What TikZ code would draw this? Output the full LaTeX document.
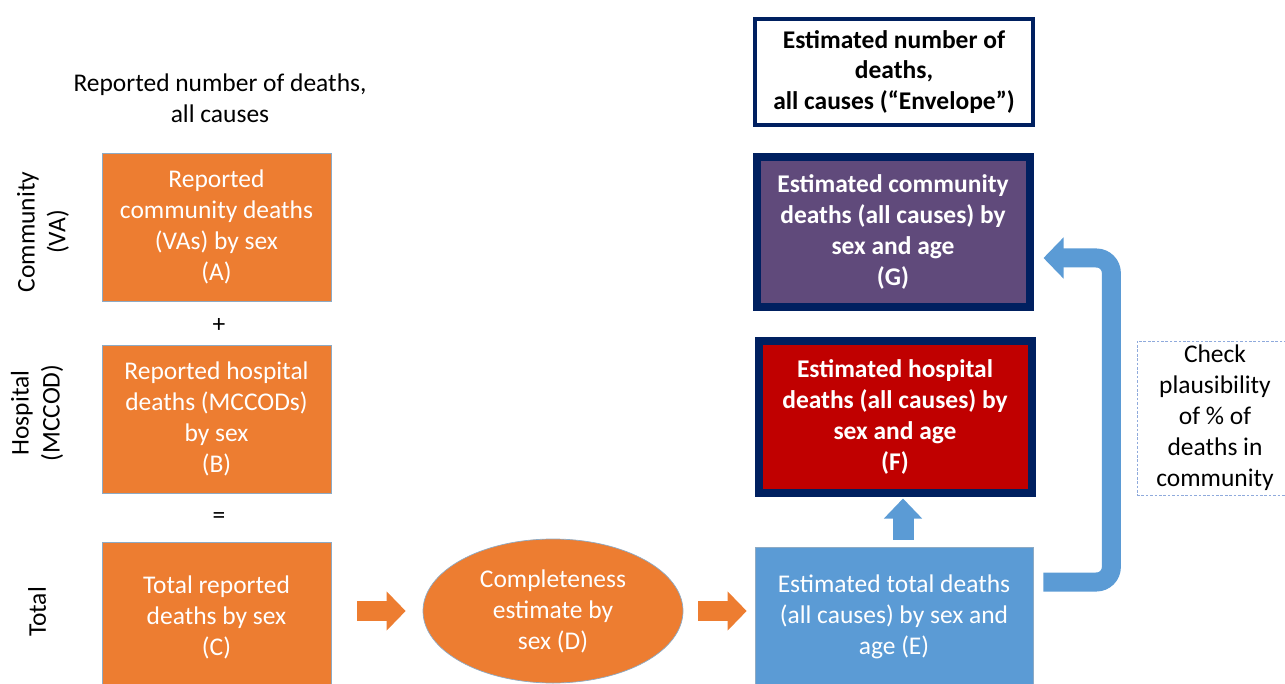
\documentclass[tikz,border=0pt]{standalone}
\usepackage{fontspec}
\setmainfont{Carlito}
\usetikzlibrary{shapes.geometric,arrows.meta}
\definecolor{repOrange}{HTML}{ED7D31}
\definecolor{estBlue}{HTML}{5B9BD5}
\definecolor{edgeBlue}{HTML}{41719C}
\definecolor{navy}{HTML}{002060}
\definecolor{hospRed}{HTML}{C00000}
\definecolor{commPurple}{HTML}{604A7B}
\definecolor{dashBlue}{HTML}{8FAADC}
\begin{document}
\begin{tikzpicture}[x=0.2mm,y=-0.2mm,
  txt/.style={font=\fontsize{14.5}{17.6}\selectfont,align=center,inner sep=0pt},
  repbox/.style={txt,draw=edgeBlue!60,fill=repOrange,text=white,minimum width=45.8mm,minimum height=29.6mm},
  estbox/.style={txt,draw=navy,line width=1.6mm,text=white,font=\fontsize{14.5}{17.6}\selectfont\bfseries,minimum width=54.6mm,minimum height=30mm},
  orarrow/.style={repOrange,line width=4mm,-{Triangle[length=3.8mm,width=7.6mm]}},
  bluearrow/.style={estBlue,line width=4.2mm,-{Triangle[length=4mm,width=7.4mm]}}]
\useasboundingbox (0,0) rectangle (1285,684);
\node[txt] (title) at (220,98) {Reported number of deaths,\\all causes};
\node[txt,rotate=90] (comm) at (43,232) {Community\\(VA)};
\node[txt,rotate=90] (hosp) at (37,413) {Hospital\\(MCCOD)};
\node[txt,rotate=90] (tot) at (37,612) {Total};
\node[repbox] (A) at (216.5,227) {Reported\\community deaths\\(VAs) by sex\\(A)};
\node[txt] (plus) at (219,325) {+};
\node[repbox] (B) at (216.5,419) {Reported hospital\\deaths (MCCODs)\\by sex\\(B)};
\node[txt] (eq) at (219,518) {=};
\node[repbox,minimum height=30mm] (C) at (216.5,617) {Total reported\\deaths by sex\\(C)};
\node[txt,ellipse,draw=edgeBlue!60,fill=repOrange,text=white,minimum width=52mm,minimum height=28.8mm] (D) at (553,611) {Completeness\\estimate by\\sex (D)};
\node[txt,draw=edgeBlue!60,fill=estBlue,text=white,minimum width=55.6mm,minimum height=28mm] (E) at (894,617) {Estimated total deaths\\(all causes) by sex and\\age (E)};
\node[estbox,fill=hospRed,minimum height=30.2mm] (F) at (895,417) {Estimated hospital\\deaths (all causes) by\\sex and age\\(F)};
\node[estbox,fill=commPurple] (G) at (893,232) {Estimated community\\deaths (all causes) by\\sex and age\\(G)};
\node[txt,draw=navy,line width=0.8mm,font=\fontsize{14.5}{17.6}\selectfont\bfseries,minimum width=55.6mm,minimum height=21.2mm] (env) at (894,72) {Estimated number of\\deaths,\\all causes (“Envelope”)};
\node[txt,draw=dashBlue,dash pattern=on 1.5pt off 1pt,minimum width=31.2mm,minimum height=30.8mm] (chk) at (1215,418) {Check\\plausibility\\of \% of\\deaths in\\community};
\draw[orarrow,shorten <=5.2mm,shorten >=3.4mm] (C.east |- D.west) -- (D.west);
\draw[orarrow,shorten <=3mm,shorten >=1.6mm] (D.east) -- (E.west |- D.east);
\draw[bluearrow,shorten <=1.4mm,shorten >=0.4mm] ([xshift=1.8mm]E.north) -- ([xshift=1.8mm]E.north |- F.south);
\draw[bluearrow,line width=3.8mm,-{Triangle[length=4mm,width=8mm]},rounded corners=3mm,shorten <=2mm,shorten >=2mm] ([yshift=7mm]E.east) -- ++(78,0) |- ([yshift=-5.2mm]G.east);
\end{tikzpicture}
\end{document}
